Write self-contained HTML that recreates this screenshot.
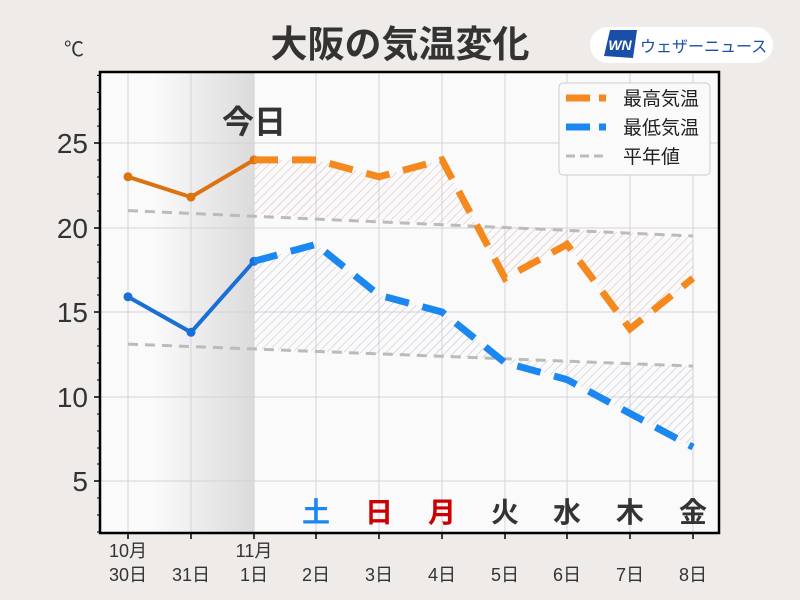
<!DOCTYPE html>
<html><head><meta charset="utf-8"><style>
body{margin:0;background:#eeebe9;}
svg{display:block;font-family:"Liberation Sans","Noto Sans CJK JP",sans-serif;}
</style></head><body>
<svg width="800" height="600" viewBox="0 0 800 600">
<defs>
<linearGradient id="g" x1="0" x2="1">
<stop offset="0" stop-color="#fbfafb"/><stop offset="0.2" stop-color="#fbfafb"/><stop offset="1" stop-color="#dcdbdc"/>
</linearGradient>
<pattern id="hr" width="6" height="6" patternUnits="userSpaceOnUse" patternTransform="rotate(45)">
<line x1="0" y1="0" x2="0" y2="6" stroke="#d9b4b4" stroke-width="1"/></pattern>
<pattern id="hb" width="6" height="6" patternUnits="userSpaceOnUse" patternTransform="rotate(45)">
<line x1="0" y1="0" x2="0" y2="6" stroke="#bdbdcc" stroke-width="1"/></pattern>
</defs>
<rect width="800" height="600" fill="#eeebe9"/>
<rect x="100" y="72" width="619" height="461" fill="#fbfafb"/>
<rect x="128" y="72" width="126" height="461" fill="url(#g)"/>
<g stroke="#d4d2d4" stroke-width="1">
<line x1="128" y1="72" x2="128" y2="533"/><line x1="191" y1="72" x2="191" y2="533"/><line x1="254" y1="72" x2="254" y2="533"/><line x1="316" y1="72" x2="316" y2="533"/><line x1="379" y1="72" x2="379" y2="533"/><line x1="442" y1="72" x2="442" y2="533"/><line x1="505" y1="72" x2="505" y2="533"/><line x1="567" y1="72" x2="567" y2="533"/><line x1="630" y1="72" x2="630" y2="533"/><line x1="693" y1="72" x2="693" y2="533"/>
<line x1="100" y1="143" x2="719" y2="143"/><line x1="100" y1="228" x2="719" y2="228"/><line x1="100" y1="312" x2="719" y2="312"/><line x1="100" y1="397" x2="719" y2="397"/><line x1="100" y1="481" x2="719" y2="481"/>
</g>
<polygon fill="url(#hr)" points="254,159.9 316,159.9 379,176.8 442,159.9 505,278.2 567,244.4 630,328.9 693,278.2 693,236 254,214"/>
<polygon fill="url(#hb)" points="254,261.3 316,244.4 379,295.1 442,312 505,362.7 567,379.6 630,413.4 693,447.2 693,366.1 254,349"/>
<polyline fill="none" stroke="#bbb" stroke-width="3" stroke-dasharray="10,7" points="128,210.6 693,236"/>
<polyline fill="none" stroke="#bbb" stroke-width="3" stroke-dasharray="10,7" points="128,344.1 693,366.1"/>
<polyline fill="none" stroke="#dd7210" stroke-width="4" points="128,176.8 191,197.1 254,159.9"/>
<polyline fill="none" stroke="#1a6fd6" stroke-width="4" points="128,296.8 191,332.3 254,261.3"/>
<g fill="#dd7210"><circle cx="128" cy="176.8" r="4.5"/><circle cx="191" cy="197.1" r="4.5"/><circle cx="254" cy="159.9" r="4.5"/></g>
<g fill="#1a6fd6"><circle cx="128" cy="296.8" r="4.5"/><circle cx="191" cy="332.3" r="4.5"/><circle cx="254" cy="261.3" r="4.5"/></g>
<polyline fill="none" stroke="#f5891e" stroke-width="7" stroke-dasharray="24,14" points="254,159.9 316,159.9 379,176.8 442,159.9 505,278.2 567,244.4 630,328.9 693,278.2"/>
<polyline fill="none" stroke="#1a88f0" stroke-width="7" stroke-dasharray="24,14" points="254,261.3 316,244.4 379,295.1 442,312 505,362.7 567,379.6 630,413.4 693,447.2"/>
<rect x="100" y="72" width="619" height="461" fill="none" stroke="#000" stroke-width="2.5"/>
<g stroke="#000" stroke-width="1.5">
<line x1="94" y1="143" x2="100" y2="143"/><line x1="94" y1="228" x2="100" y2="228"/><line x1="94" y1="312" x2="100" y2="312"/><line x1="94" y1="397" x2="100" y2="397"/><line x1="94" y1="481" x2="100" y2="481"/>
<line x1="128" y1="533" x2="128" y2="539"/><line x1="191" y1="533" x2="191" y2="539"/><line x1="254" y1="533" x2="254" y2="539"/><line x1="316" y1="533" x2="316" y2="539"/><line x1="379" y1="533" x2="379" y2="539"/><line x1="442" y1="533" x2="442" y2="539"/><line x1="505" y1="533" x2="505" y2="539"/><line x1="567" y1="533" x2="567" y2="539"/><line x1="630" y1="533" x2="630" y2="539"/><line x1="693" y1="533" x2="693" y2="539"/>
</g>
<g stroke="#000" stroke-width="1">
<line x1="97" y1="75.4" x2="100" y2="75.4"/><line x1="97" y1="92.3" x2="100" y2="92.3"/><line x1="97" y1="109.2" x2="100" y2="109.2"/><line x1="97" y1="126.1" x2="100" y2="126.1"/>
<line x1="97" y1="160" x2="100" y2="160"/><line x1="97" y1="177" x2="100" y2="177"/><line x1="97" y1="194" x2="100" y2="194"/><line x1="97" y1="211" x2="100" y2="211"/>
<line x1="97" y1="245" x2="100" y2="245"/><line x1="97" y1="262" x2="100" y2="262"/><line x1="97" y1="278" x2="100" y2="278"/><line x1="97" y1="295" x2="100" y2="295"/>
<line x1="97" y1="329" x2="100" y2="329"/><line x1="97" y1="346" x2="100" y2="346"/><line x1="97" y1="363" x2="100" y2="363"/><line x1="97" y1="380" x2="100" y2="380"/>
<line x1="97" y1="414" x2="100" y2="414"/><line x1="97" y1="431" x2="100" y2="431"/><line x1="97" y1="448" x2="100" y2="448"/><line x1="97" y1="464" x2="100" y2="464"/>
<line x1="97" y1="498" x2="100" y2="498"/><line x1="97" y1="515" x2="100" y2="515"/><line x1="97" y1="532" x2="100" y2="532"/>
</g>
<g font-size="28" fill="#333" text-anchor="end">
<text x="88" y="153">25</text><text x="88" y="238">20</text><text x="88" y="322">15</text><text x="88" y="407">10</text><text x="88" y="491">5</text>
</g>
<text x="64" y="56" font-size="20" fill="#333">℃</text>
<text x="400" y="57" font-size="37" font-weight="bold" fill="#333" text-anchor="middle">大阪の気温変化</text>
<text x="254" y="133" font-size="32" font-weight="bold" fill="#333" text-anchor="middle">今日</text>
<g font-size="18" fill="#333" text-anchor="middle">
<text x="128" y="557">10月</text><text x="128" y="581">30日</text>
<text x="191" y="581">31日</text>
<text x="254" y="557">11月</text><text x="254" y="581">1日</text>
<text x="316" y="581">2日</text><text x="379" y="581">3日</text><text x="442" y="581">4日</text><text x="505" y="581">5日</text><text x="567" y="581">6日</text><text x="630" y="581">7日</text><text x="693" y="581">8日</text>
</g>
<g font-size="28" font-weight="bold" text-anchor="middle">
<text x="316" y="522" fill="#1a88f0">土</text><text x="379" y="522" fill="#cc0000">日</text><text x="442" y="522" fill="#cc0000">月</text>
<text x="505" y="522" fill="#333">火</text><text x="567" y="522" fill="#333">水</text><text x="630" y="522" fill="#333">木</text><text x="693" y="522" fill="#333">金</text>
</g>
<rect x="559" y="83" width="151" height="92" rx="4" fill="#fbfafb" stroke="#ccc"/>
<line x1="566" y1="98" x2="590" y2="98" stroke="#f5891e" stroke-width="7"/><line x1="599" y1="98" x2="606" y2="98" stroke="#f5891e" stroke-width="7"/>
<line x1="566" y1="127" x2="590" y2="127" stroke="#1a88f0" stroke-width="7"/><line x1="599" y1="127" x2="606" y2="127" stroke="#1a88f0" stroke-width="7"/>
<line x1="566" y1="156" x2="606" y2="156" stroke="#bbb" stroke-width="3" stroke-dasharray="9,5"/>
<g font-size="19" fill="#222"><text x="623" y="105">最高気温</text><text x="623" y="134">最低気温</text><text x="623" y="163">平年値</text></g>
<rect x="590" y="27" width="183" height="36" rx="18" fill="#fff"/>
<polygon points="610,30 637,30 633,58 604,56" fill="#1a4fa8"/>
<text x="620" y="50" font-size="14" font-weight="bold" font-style="italic" fill="#fff" text-anchor="middle">WN</text>
<text x="640" y="52" font-size="16" fill="#1a4fa8">ウェザーニュース</text>
</svg>
</body></html>
